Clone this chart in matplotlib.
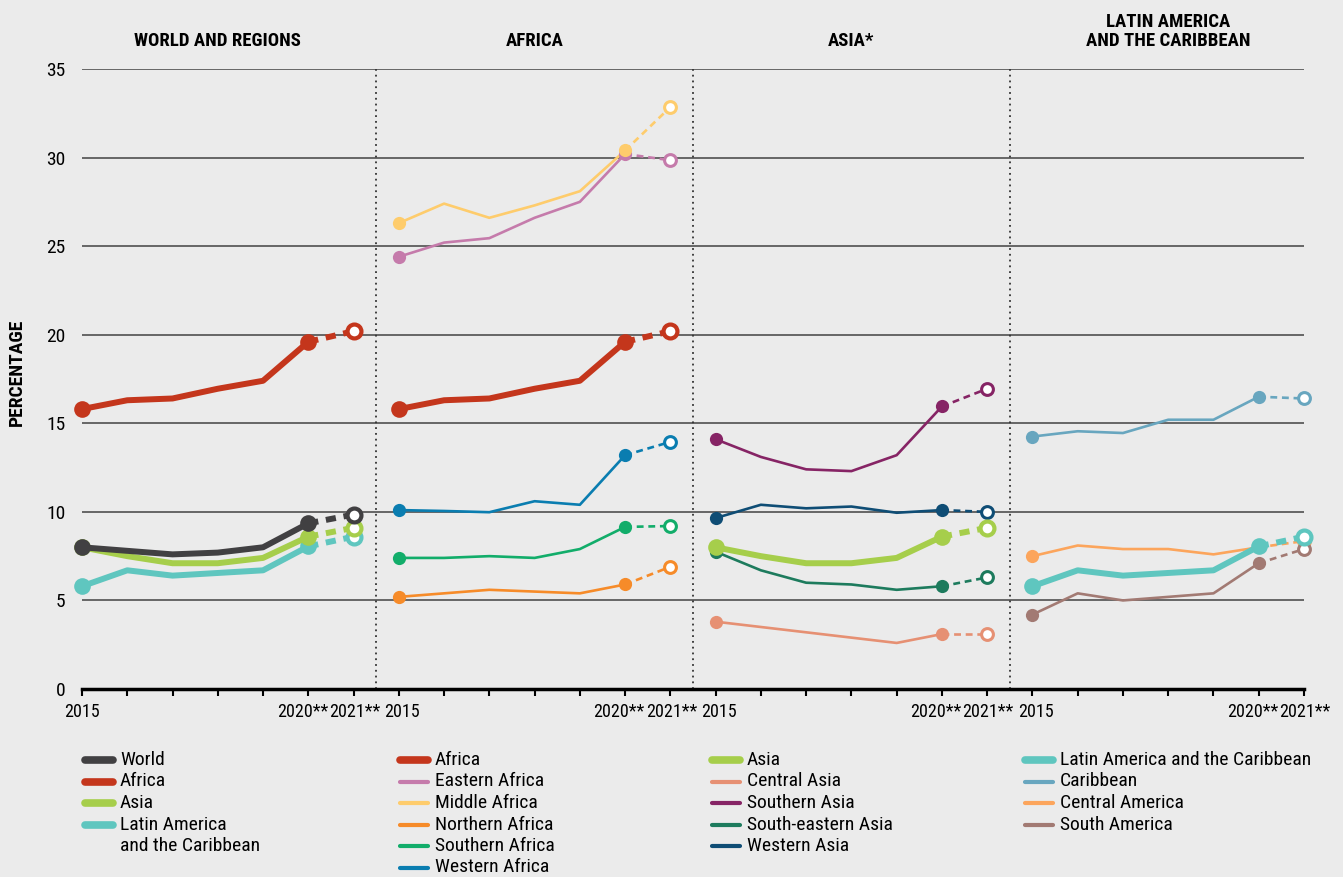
from matplotlib import pyplot as plt
from matplotlib import font_manager
from matplotlib.lines import Line2D
from matplotlib.transforms import blended_transform_factory, ScaledTranslation
import numpy as np

# pick a condensed font if one is around
available = {f.name for f in font_manager.fontManager.ttflist}
font = 'DejaVu Sans'
for cand in ['Liberation Sans Narrow', 'Roboto Condensed', 'Open Sans Condensed', 'DejaVu Sans Condensed']:
	if cand in available:
		font = cand
		break
plt.rcParams['font.family'] = [font, 'DejaVu Sans']
if font == 'DejaVu Sans':
	plt.rcParams['font.stretch'] = 'condensed'

# data (percentages), 2015..2021
tick_labels = ['2015', '', '', '', '', '2020**', '2021**']
panel_titles = ['WORLD AND REGIONS', 'AFRICA', 'ASIA*', 'LATIN AMERICA\nAND THE CARIBBEAN']

world = [8.0, 7.8, 7.6, 7.7, 8.0, 9.35, 9.85]
africa = [15.8, 16.3, 16.4, 16.95, 17.4, 19.6, 20.2]
asia = [8.0, 7.5, 7.1, 7.1, 7.4, 8.6, 9.1]
lac = [5.8, 6.7, 6.4, 6.55, 6.7, 8.05, 8.6]

eastern_africa = [24.4, 25.2, 25.45, 26.6, 27.5, 30.2, 29.85]
middle_africa = [26.3, 27.4, 26.6, 27.3, 28.1, 30.4, 32.85]
northern_africa = [5.2, 5.4, 5.6, 5.5, 5.4, 5.9, 6.9]
southern_africa = [7.4, 7.4, 7.5, 7.4, 7.9, 9.15, 9.2]
western_africa = [10.1, 10.05, 9.98, 10.6, 10.4, 13.2, 13.95]

central_asia = [3.8, None, None, None, 2.6, 3.1, 3.1]
southern_asia = [14.1, 13.1, 12.4, 12.3, 13.2, 15.95, 16.95]
south_eastern_asia = [7.75, 6.7, 6.0, 5.9, 5.6, 5.8, 6.3]
western_asia = [9.65, 10.4, 10.2, 10.3, 9.95, 10.1, 10.0]

caribbean = [14.25, 14.55, 14.45, 15.2, 15.2, 16.5, 16.4]
central_america = [7.5, 8.1, 7.9, 7.9, 7.6, 8.0, 8.35]
south_america = [4.2, 5.4, 5.0, 5.2, 5.4, 7.1, 7.9]

C_WORLD = '#414042'
C_AFRICA = '#c4361c'
C_ASIA = '#a6ce4b'
C_LAC = '#5fc6bf'

panels = [
	[('World', world, C_WORLD, True),
	 ('Africa', africa, C_AFRICA, True),
	 ('Asia', asia, C_ASIA, True),
	 ('Latin America\nand the Caribbean', lac, C_LAC, True)],
	[('Africa', africa, C_AFRICA, True),
	 ('Eastern Africa', eastern_africa, '#c57bab', False),
	 ('Middle Africa', middle_africa, '#fecc6c', False),
	 ('Northern Africa', northern_africa, '#f68b29', False),
	 ('Southern Africa', southern_africa, '#12ad6a', False),
	 ('Western Africa', western_africa, '#0a7db0', False)],
	[('Asia', asia, C_ASIA, True),
	 ('Central Asia', central_asia, '#e69073', False),
	 ('Southern Asia', southern_asia, '#862465', False),
	 ('South-eastern Asia', south_eastern_asia, '#1d7b5d', False),
	 ('Western Asia', western_asia, '#0f4d75', False)],
	[('Latin America and the Caribbean', lac, C_LAC, True),
	 ('Caribbean', caribbean, '#68a6bf', False),
	 ('Central America', central_america, '#fca55c', False),
	 ('South America', south_america, '#a27a73', False)],
]

BG = '#ebebeb'
W, H = 1343, 877
fig = plt.figure(figsize=(W / 100, H / 100), dpi=100, facecolor=BG)
ax = fig.add_axes([82 / W, 188 / H, 1222 / W, 620 / H], facecolor=BG)

n = len(tick_labels)
ax.set_xlim(0, n * len(panels) - 1)
ax.set_ylim(0, 35)

for s in ['top', 'right', 'left']:
	ax.spines[s].set_visible(False)
ax.spines['bottom'].set_linewidth(2.5)
ax.spines['bottom'].set_color('black')
ax.spines['bottom'].set_zorder(20)

# horizontal grid
yt = np.arange(0, 36, 5)
ax.hlines(yt[1:], 0, n * len(panels) - 1, colors='#505050', lw=1.2, zorder=1)
ax.set_yticks(yt)
ax.tick_params(axis='y', length=0, pad=12, labelsize=14)

xt = np.arange(n * len(panels))
ax.set_xticks(xt)
ax.set_xticklabels(tick_labels * len(panels))
ax.tick_params(axis='x', length=5, width=1.5, pad=5, labelsize=13, color='black')
# nudge the crowded year labels apart a little
nudge = {'2015': 3, '2020**': -6, '2021**': 1}
for i, lab in enumerate(ax.get_xticklabels()):
	txt = lab.get_text()
	if txt in nudge and i > 0:
		lab.set_transform(lab.get_transform() + ScaledTranslation(nudge[txt] / 100, 0, fig.dpi_scale_trans))

# panel separators
for p in range(1, len(panels)):
	ax.axvline(p * n - 0.5, ymin=0, ymax=1, color='#333333', lw=1.3,
			   ls=(0, (1, 2.2)), zorder=2)


def plot_series(ax, x0, vals, color, thick, z):
	pts = [(x0 + i, v) for i, v in enumerate(vals) if v is not None]
	xs = [p[0] for p in pts]
	ys = [p[1] for p in pts]
	lw = 4.3 if thick else 1.9
	ms = 12 if thick else 9.5
	dash = (0, (1.7, 1.3)) if thick else (0, (2.6, 1.8))
	ax.plot(xs[:-1], ys[:-1], color=color, lw=lw, solid_joinstyle='round',
			solid_capstyle='round', zorder=z, clip_on=False)
	ax.plot(xs[-2:], ys[-2:], color=color, lw=lw, ls=dash, zorder=z, clip_on=False)
	ax.plot([xs[0], xs[-2]], [ys[0], ys[-2]], 'o', ms=ms, color=color, mec='none',
			zorder=z + 0.1, clip_on=False)
	ax.plot(xs[-1], ys[-1], 'o', ms=10 if thick else 8.5, mfc='white', mec=color,
			mew=3 if thick else 2.2, zorder=z + 0.1, clip_on=False)


tr = blended_transform_factory(ax.transData, fig.transFigure)
leg_x = [85, 400, 712, 1025]
for p, series in enumerate(panels):
	x0 = p * n
	for i, (label, vals, color, thick) in enumerate(series):
		z = 5 + (len(series) - i) if thick else 3
		plot_series(ax, x0, vals, color, thick, z)
	ax.text(x0 + (n - 1) / 2, 1 - 50 / H, panel_titles[p], transform=tr,
			ha='center', va='bottom', fontsize=13.5, fontweight='bold', linespacing=1.1)

	# legend column
	for i, (label, vals, color, thick) in enumerate(series):
		yc = 1 - (760 + 21.5 * i) / H
		fig.add_artist(Line2D([leg_x[p] / W, (leg_x[p] + 28) / W], [yc, yc],
							  transform=fig.transFigure, color=color,
							  lw=5.5 if thick else 3, solid_capstyle='round'))
		fig.text((leg_x[p] + 35) / W, yc + 9 / H, label, ha='left', va='top',
				 fontsize=14, linespacing=1.25)

fig.text(17 / W, 1 - 372 / H, 'PERCENTAGE', rotation=90, ha='center', va='center',
		 fontsize=14, fontweight='bold')

fig.savefig('out.png', dpi=100, facecolor=BG)
